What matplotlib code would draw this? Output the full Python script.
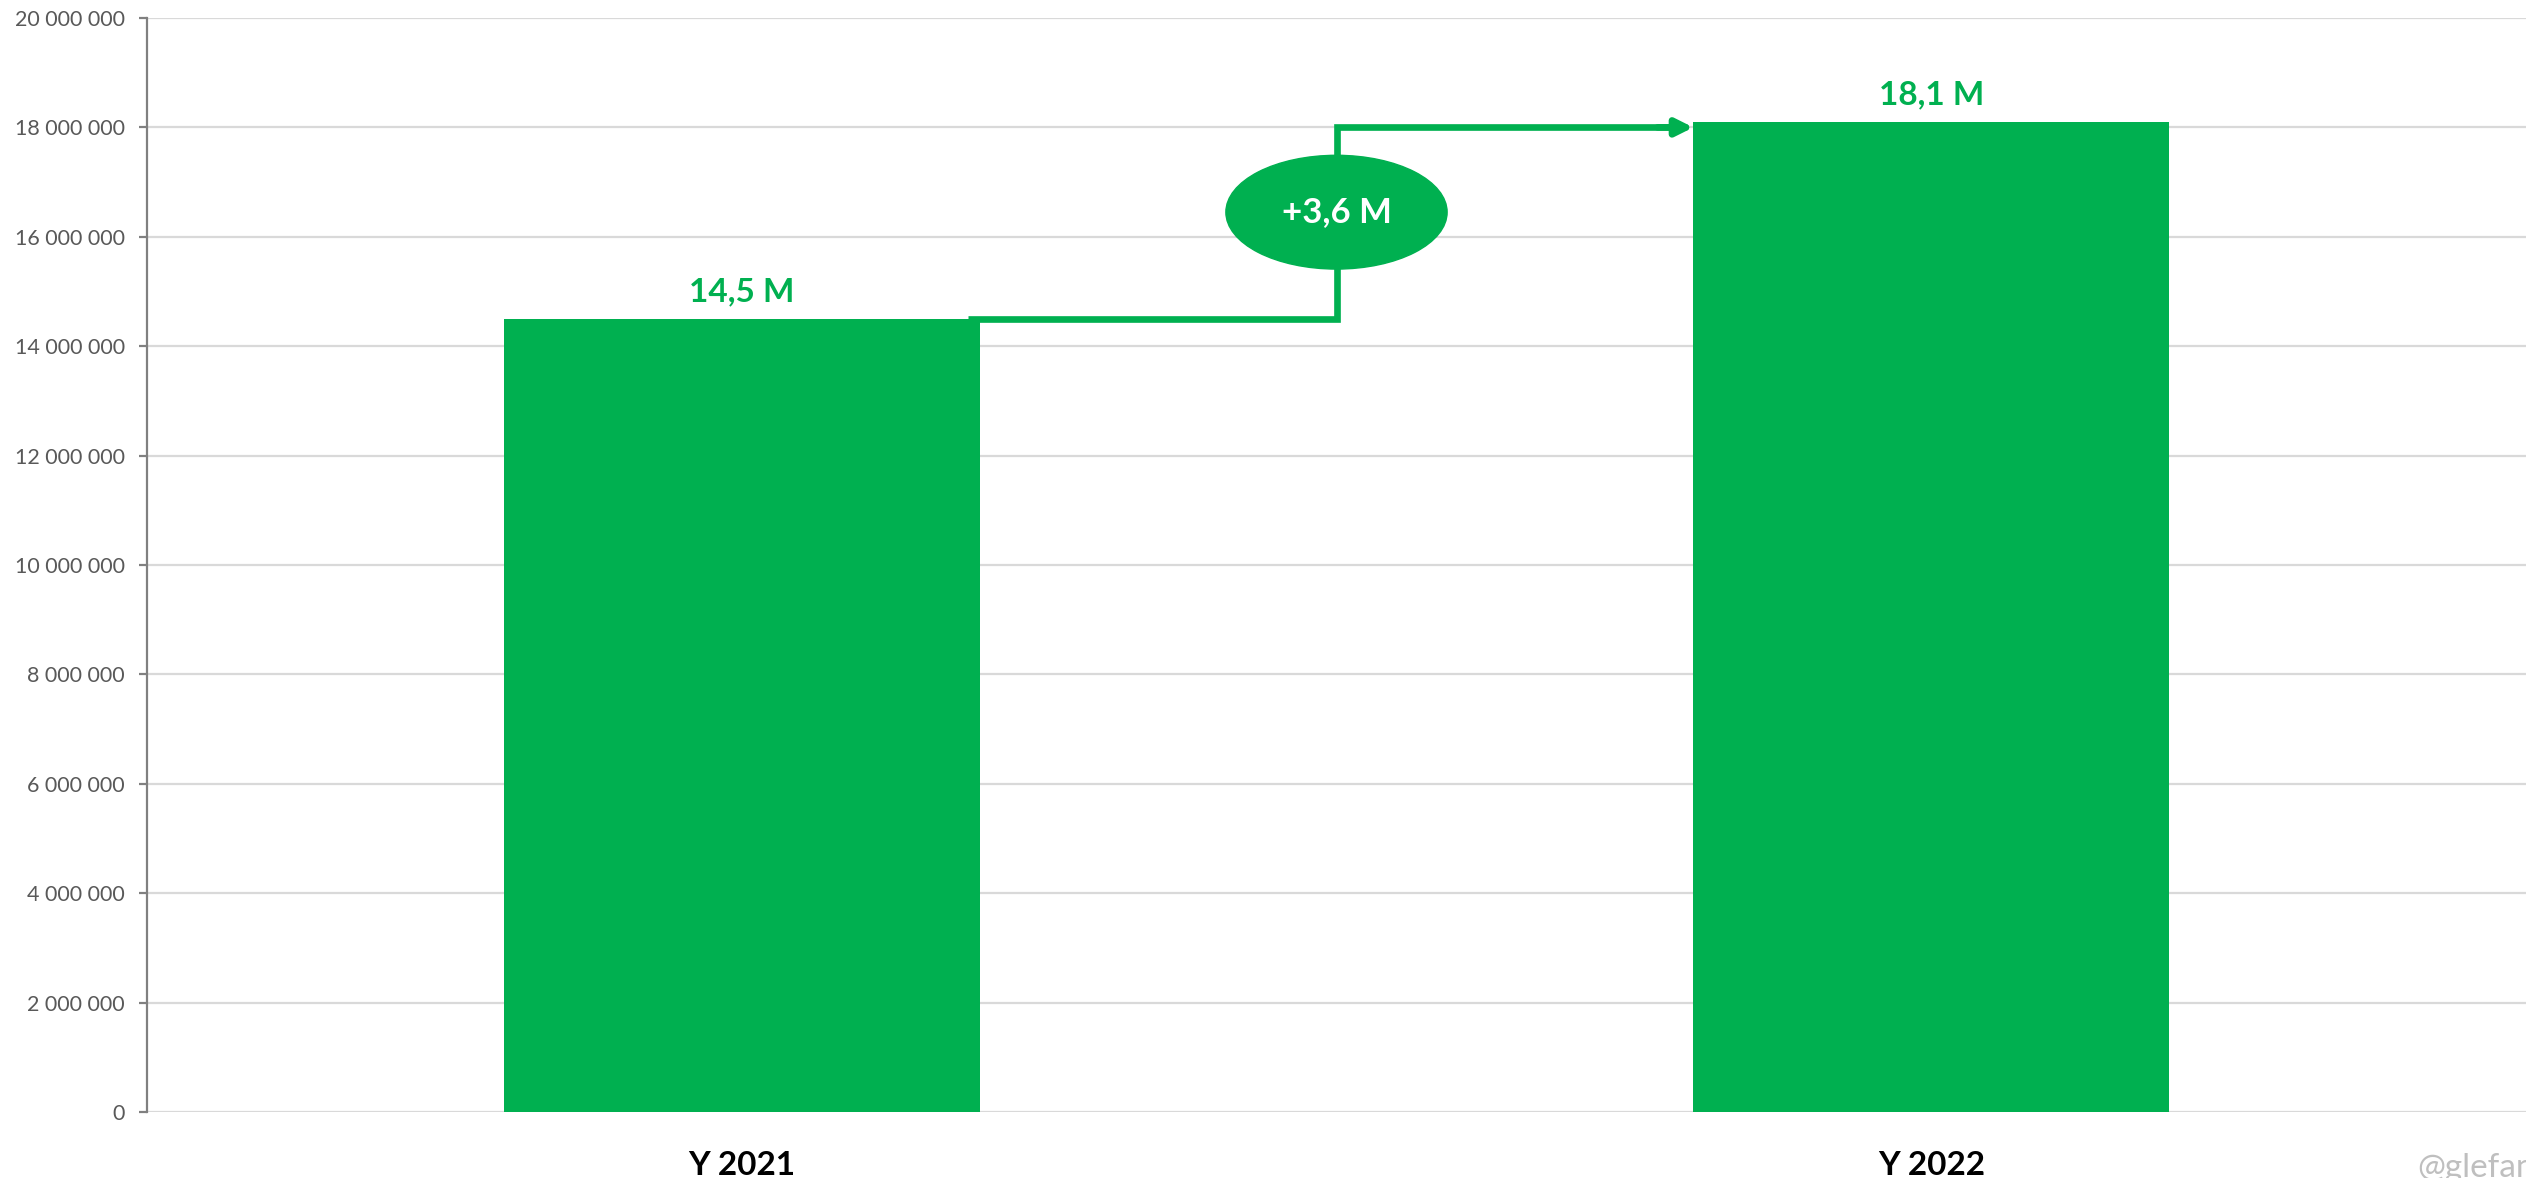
import matplotlib
matplotlib.use("Agg")
import matplotlib.pyplot as plt
from matplotlib.patches import Ellipse
from matplotlib.ticker import FuncFormatter

categories = ["Y 2021", "Y 2022"]
values = [14.5e6, 18.1e6]
value_labels = ["14,5 M", "18,1 M"]
delta_label = "+3,6 M"
y_ticks = [0, 2e6, 4e6, 6e6, 8e6, 10e6, 12e6, 14e6, 16e6, 18e6, 20e6]

GREEN = "#00B050"
FONT = ["Lato", "DejaVu Sans"]
plt.rcParams["font.family"] = FONT

fig = plt.figure(figsize=(25.26, 11.78), dpi=100)
ax = fig.add_axes([147 / 2526, 1 - 1112 / 1178, 1 - 147 / 2526, (1112 - 18) / 1178])

x = list(range(len(categories)))
ax.bar(x, values, width=0.4, color=GREEN, zorder=3)

ax.set_xlim(-0.5, 1.5)
ax.set_ylim(0, 20e6)
ax.set_yticks(y_ticks)
ax.yaxis.set_major_formatter(FuncFormatter(lambda v, p: f"{int(v):,}".replace(",", " ")))
ax.grid(axis="y", color="#D9D9D9", linewidth=1.6, zorder=0)
ax.set_axisbelow(True)

for s in ["top", "right", "bottom"]:
    ax.spines[s].set_visible(False)
ax.spines["left"].set_color("#808080")
ax.spines["left"].set_linewidth(1.6)
ax.tick_params(axis="y", colors="#808080", length=6, width=1.6, labelsize=15.5,
               labelcolor="#595959", pad=10)
ax.set_xticks(x)
ax.set_xticklabels(categories, fontsize=24, fontweight="bold", color="black")
ax.tick_params(axis="x", length=0, pad=28)

for xi, v, lab in zip(x, values, value_labels):
    ax.text(xi, v + 0.5e6, lab, ha="center", va="center", fontsize=24,
            fontweight="bold", color=GREEN, zorder=5)

# connector from bar 1 to bar 2
mid = (x[0] + x[1]) / 2
y_low = values[0]
y_high = values[1] - 0.1e6
x_start = x[0] + 0.19
x_end = x[1] - 0.2
ax.plot([x_start, mid, mid, x_end - 0.02], [y_low, y_low, y_high, y_high], color=GREEN,
        linewidth=4.8, solid_joinstyle="miter", solid_capstyle="butt", zorder=4)
ax.annotate("", xy=(x_end, y_high), xytext=(x_end - 0.03, y_high),
            arrowprops=dict(arrowstyle="-|>,head_length=1.0,head_width=0.5",
                            color=GREEN, linewidth=4.8, shrinkA=0, shrinkB=0),
            zorder=4)

e_y = (y_low + y_high) / 2 + 0.2e6
ax.add_patch(Ellipse((mid, e_y), width=0.186, height=2.08e6, color=GREEN, zorder=6))
ax.text(mid, e_y, delta_label, ha="center", va="center", fontsize=25,
        fontweight="bold", color="white", zorder=7)

fig.text(2417 / 2526, 1 - 1168 / 1178, "@glefanov", ha="left", va="center",
         fontsize=24, color="#BFBFBF")

fig.savefig("out.png", dpi=100)
